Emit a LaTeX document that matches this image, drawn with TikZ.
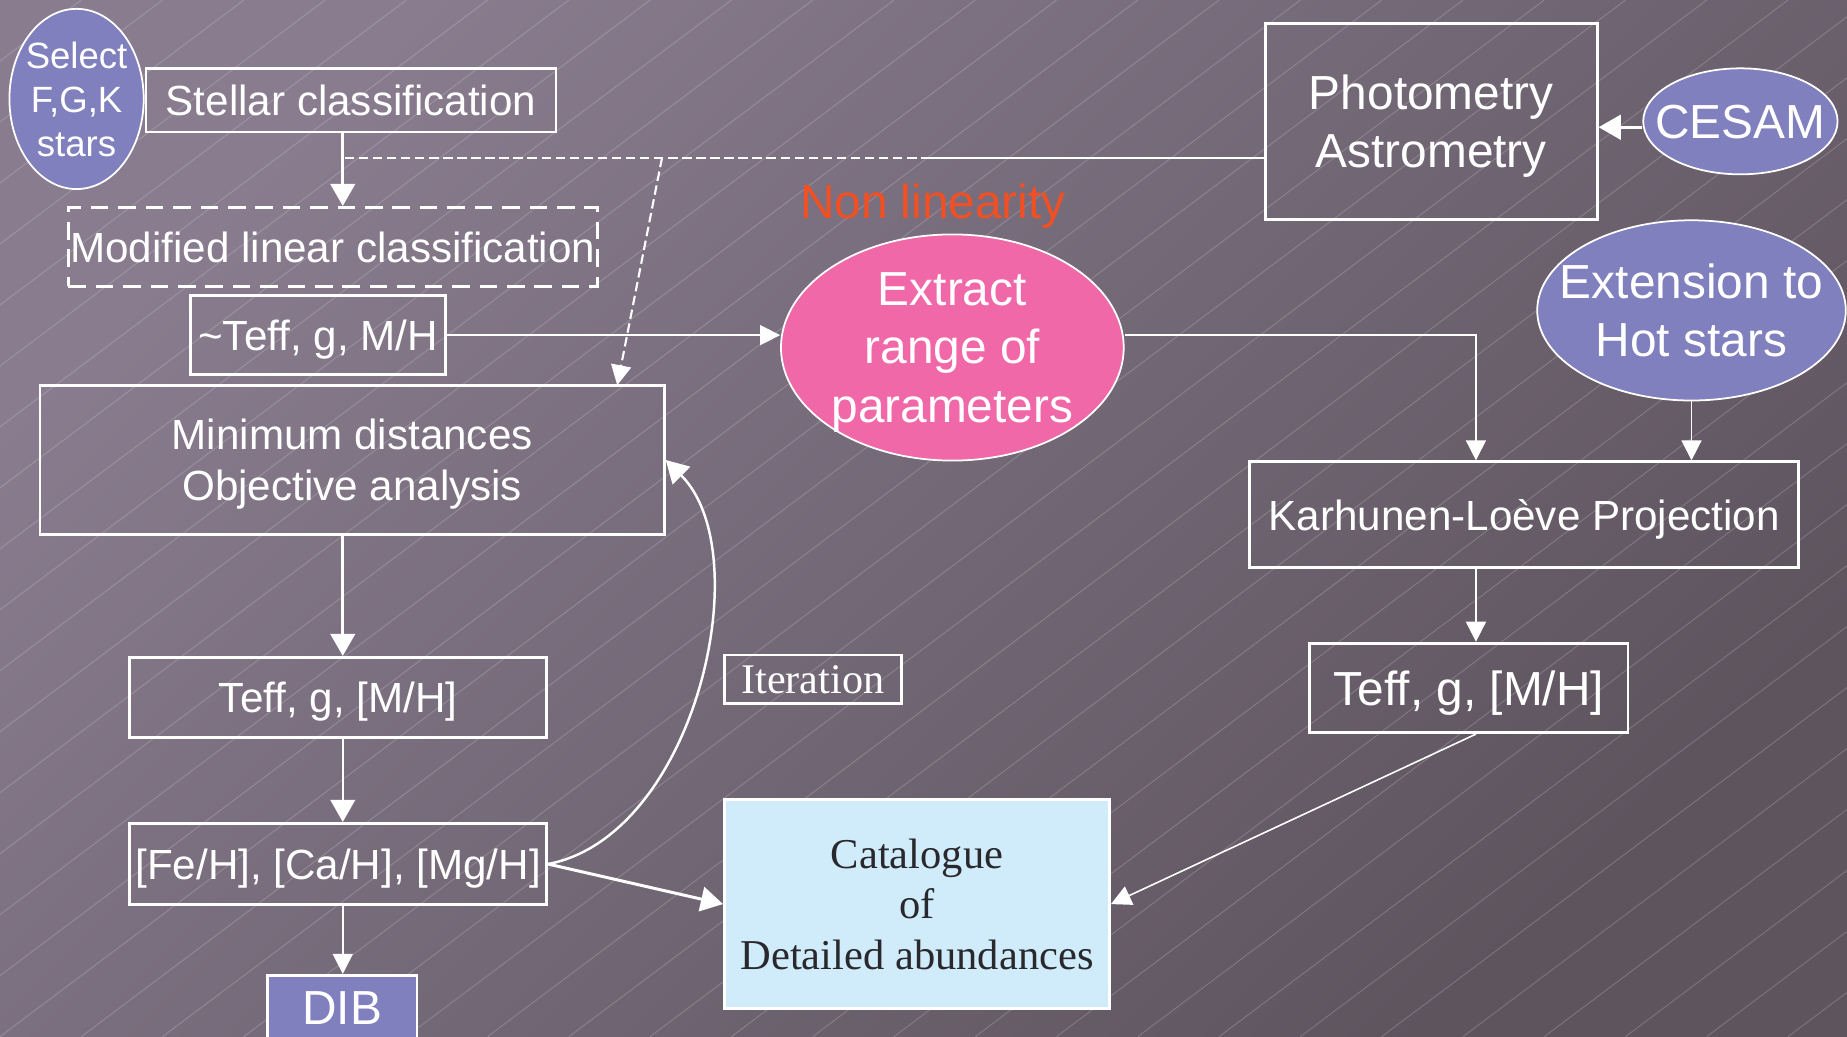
\documentclass[tikz,border=0pt]{standalone}
\usepackage{fontspec}
\setmainfont{Liberation Sans}
\newfontfamily\serifface{Liberation Serif}
\usetikzlibrary{arrows.meta,shapes.geometric}
\definecolor{bgnw}{RGB}{136,124,142}
\definecolor{bgse}{RGB}{94,84,94}
\definecolor{lilac}{RGB}{128,128,190}
\definecolor{rose}{RGB}{241,104,168}
\definecolor{paleblue}{RGB}{208,235,249}
\definecolor{nonlin}{RGB}{240,80,35}
\definecolor{inkgray}{RGB}{40,40,45}
\newcommand{\pix}{0.1178mm}
\newcommand{\fmain}{\fontsize{12}{14.6}\selectfont}
\newcommand{\fbig}{\fontsize{13.6}{16.6}\selectfont}
\newcommand{\fsmall}{\fontsize{10.4}{12.5}\selectfont}

\begin{document}
\begin{tikzpicture}[x=0.1178mm, y=-0.1178mm, every node/.style={font=\fmain}]
\tikzset{
    box/.style={draw=white, line width=0.8pt, text=white, align=center, inner sep=0pt, text depth=0pt},
    dashbox/.style={box, dash pattern=on 5pt off 2.8pt},
    bubble/.style={ellipse, draw=white, line width=0.5pt, text=white, align=center, inner sep=-12pt, text depth=0pt},
    flow/.style={white, line width=0.85pt, -{Triangle[width=7pt,length=6.3pt]}},
    link/.style={white, line width=0.45pt, -{Triangle[width=5.7pt,length=5.7pt]}},
    dashline/.style={white, line width=0.6pt, dash pattern=on 2.7pt off 1.3pt},
    bgline/.style={white, opacity=0.17, line width=0.3pt}
}

% background
\useasboundingbox (0,0) rectangle (1568,880);
\clip (0,0) rectangle (1568,880);
\shade[left color=bgnw, right color=bgse, shading angle=45] (0,0) rectangle (1568,880);
\foreach \i in {-18,...,23}
    \draw[bgline] (\i*69,880) -- ++(1173,-880);

% left column
\node[bubble, fill=lilac, minimum width=114*\pix, minimum height=153*\pix, font=\fsmall] (select) at (65,84) {Select\\F,G,K\\stars};
\node[box, minimum width=348*\pix, minimum height=54*\pix] (stellar) at (298,85) {Stellar classification};
\node[dashbox, minimum width=449*\pix, minimum height=67*\pix] (modlin) at (282.5,209.5) {Modified linear classification};
\node[box, minimum width=216*\pix, minimum height=67*\pix] (roughpar) at (270,284.5) {\textasciitilde Teff, g, M/H};
\node[box, minimum width=530*\pix, minimum height=127*\pix] (mindist) at (299,390.5) {Minimum distances\\Objective analysis};
\node[box, minimum width=354*\pix, minimum height=68*\pix] (teffleft) at (287,592) {Teff, g, [M/H]};
\node[box, minimum width=354*\pix, minimum height=69*\pix] (abund) at (287,733.5) {[Fe/H], [Ca/H], [Mg/H]};
\node[box, fill=lilac, minimum width=127*\pix, minimum height=56*\pix, font=\fbig] (dib) at (290.5,856) {DIB};

% middle
\node[box, minimum width=150*\pix, minimum height=41*\pix, font=\serifface\fmain] (iter) at (690,576.5) {Iteration};
\node[box, fill=paleblue, text=inkgray, minimum width=327*\pix, minimum height=177*\pix, font=\serifface\fontsize{12.1}{14.4}\selectfont] (catal) at (778.5,767.5) {Catalogue\\of\\Detailed abundances};
\node[text=nonlin, font=\fbig, text depth=0pt] (nonlin) at (792,171) {Non linearity};
\node[bubble, fill=rose, minimum width=291*\pix, minimum height=192*\pix, font=\fbig] (extract) at (808.5,295) {Extract\\range of\\parameters};

% right column
\node[box, minimum width=282*\pix, minimum height=166*\pix, font=\fbig] (photo) at (1215,103) {Photometry\\Astrometry};
\node[bubble, fill=lilac, minimum width=165*\pix, minimum height=90*\pix, font=\fbig] (cesam) at (1477.5,103) {CESAM};
\node[bubble, fill=lilac, minimum width=262*\pix, minimum height=153*\pix, font=\fbig] (hotstars) at (1436,263.5) {Extension to\\Hot stars};
\node[box, minimum width=466*\pix, minimum height=90*\pix] (kl) at (1294,437) {Karhunen-Loève Projection};
\node[box, minimum width=270*\pix, minimum height=76*\pix, font=\fbig] (teffright) at (1247,584) {Teff, g, [M/H]};

% helper points
\coordinate (col) at (291,0);
\coordinate (kcol) at (1253,0);
\coordinate (djoin) at (291,134);
\coordinate (dbreak) at (790,134);
\coordinate (dfork) at (562,134);
\coordinate (dland) at (524,327);

% connectors
\draw[flow] (stellar.south -| col) -- (modlin.north -| col);
\draw[white, line width=0.45pt] (photo.west |- dbreak) -- (dbreak);
\draw[dashline] (dbreak) -- (djoin);
\draw[dashline, -{Triangle[width=5.7pt,length=5.7pt]}] (dfork) -- (dland);
\draw[link] (roughpar.east) -- (extract.west |- roughpar.east);
\draw[link] (extract.east |- roughpar.east) -| (kl.north -| kcol);
\draw[link] (hotstars.south) -- (hotstars.south |- kl.north);
\draw[flow] (cesam.west |- 0,108) -- (photo.east |- 0,108);
\draw[link] (kl.south -| kcol) -- (teffright.north -| kcol);
\draw[link] (teffright.south -| kcol) -- (catal.east);
\draw[flow] (mindist.south -| col) -- (teffleft.north -| col);
\draw[flow, line width=0.65pt] (teffleft.south -| col) -- (abund.north -| col);
\draw[link] (abund.south -| col) -- (dib.north -| col);
\draw[flow] (abund.east) -- (catal.west);
\draw[flow, line width=0.7pt] (abund.east) .. controls (590,710) and (645,470) .. (mindist.east);

\end{tikzpicture}
\end{document}
